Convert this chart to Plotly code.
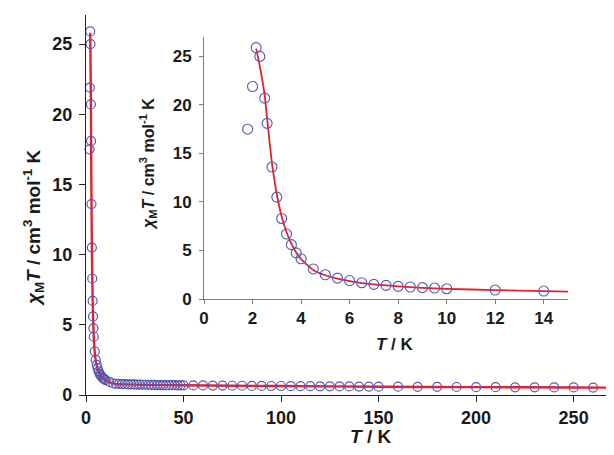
import plotly.graph_objects as go

# ---------------- data ----------------
T_low = [1.8, 2.0, 2.15, 2.3, 2.5, 2.6, 2.8, 3.0, 3.2, 3.4, 3.6, 3.8, 4.0, 4.5,
         5.0, 5.5, 6.0, 6.5, 7.0, 7.5, 8.0, 8.5, 9.0, 9.5, 10.0, 12.0, 14.0]
chiT_low = [17.5, 21.9, 25.9, 25.0, 20.7, 18.1, 13.6, 10.5, 8.3, 6.7, 5.6, 4.75, 4.15, 3.1,
            2.5, 2.15, 1.9, 1.68, 1.51, 1.41, 1.3, 1.24, 1.17, 1.13, 1.06, 0.93, 0.82]

T_mid = [15.5, 17, 18.5, 20, 21.5, 23, 24.5, 26, 27.5, 29, 30.5, 32, 33.5, 35,
         36.5, 38, 39.5, 41, 42.5, 44, 45.5, 47, 48.5, 50]
chiT_mid = [0.80, 0.79, 0.78, 0.77, 0.76, 0.75, 0.75, 0.74, 0.74, 0.73, 0.73, 0.72, 0.72, 0.72,
            0.71, 0.71, 0.71, 0.70, 0.70, 0.70, 0.70, 0.69, 0.69, 0.69]

T_high = [55, 60, 65, 70, 75, 80, 85, 90, 95, 100, 105, 110, 115, 120, 125, 130, 135, 140, 145, 150,
          160, 170, 180, 190, 200, 210, 220, 230, 240, 250, 260]
chiT_high = [0.68, 0.68, 0.67, 0.67, 0.66, 0.66, 0.65, 0.65, 0.64, 0.64, 0.63, 0.63, 0.63, 0.62, 0.62,
             0.61, 0.61, 0.60, 0.60, 0.59, 0.59, 0.58, 0.58, 0.57, 0.56, 0.56, 0.55, 0.55, 0.54, 0.54, 0.53]

fit_T = [2.15, 2.3, 2.5, 2.6, 2.8, 3.0, 3.2, 3.4, 3.6, 3.8, 4.0, 4.5, 5.0, 5.5, 6.0, 7.0, 8.0,
         9.0, 10.0, 12.0, 14.0, 15.0, 20, 30, 50, 100, 150, 200, 250, 270]
fit_chiT = [25.8, 24.0, 21.0, 18.6, 14.0, 10.8, 8.5, 6.9, 5.7, 4.8, 4.1, 3.0, 2.45, 2.1, 1.85, 1.5, 1.3,
            1.15, 1.05, 0.92, 0.82, 0.77, 0.76, 0.72, 0.69, 0.64, 0.59, 0.56, 0.535, 0.525]

x_ticks_main = [0, 50, 100, 150, 200, 250]
y_ticks = [0, 5, 10, 15, 20, 25]
x_ticks_inset = [0, 2, 4, 6, 8, 10, 12, 14]

T_all = T_low + T_mid + T_high
chiT_all = chiT_low + chiT_mid + chiT_high

# ---------------- style ----------------
RED = "#e3232b"
BLUE = "#5656b4"
TXT = "#1a1a1a"
FONT = "Arial, Liberation Sans, sans-serif"

fig = go.Figure()

# main plot
fig.add_trace(go.Scatter(x=fit_T, y=fit_chiT, mode="lines", line=dict(color=RED, width=2.4, shape="spline", smoothing=0.6),
                         xaxis="x", yaxis="y", showlegend=False, hoverinfo="skip"))
fig.add_trace(go.Scatter(x=T_all, y=chiT_all, mode="markers",
                         marker=dict(symbol="circle-open", size=9, color=BLUE, line=dict(width=1.2, color=BLUE)),
                         xaxis="x", yaxis="y", showlegend=False, cliponaxis=False))

# inset
fig.add_trace(go.Scatter(x=fit_T, y=fit_chiT, mode="lines", line=dict(color=RED, width=1.8, shape="spline", smoothing=0.6),
                         xaxis="x2", yaxis="y2", showlegend=False, hoverinfo="skip"))
fig.add_trace(go.Scatter(x=T_low, y=chiT_low, mode="markers",
                         marker=dict(symbol="circle-open", size=10, color=BLUE, line=dict(width=1.1, color=BLUE)),
                         xaxis="x2", yaxis="y2", showlegend=False))

tickfont_main = dict(family=FONT, size=18, color=TXT, weight="bold")
tickfont_inset = dict(family=FONT, size=17, color=TXT, weight="bold")

fig.update_layout(
    width=606, height=447,
    margin=dict(l=78, r=0, t=7, b=60, autoexpand=False),
    paper_bgcolor="white", plot_bgcolor="white",
    xaxis=dict(domain=[0, 1], range=[0, 270.7], tickvals=x_ticks_main, showline=True, linecolor="#222",
               linewidth=1.3, ticks="outside", ticklen=6, tickcolor="#222", showgrid=False, zeroline=False,
               tickfont=tickfont_main, anchor="y", automargin=False),
    yaxis=dict(domain=[0, 1], range=[0, 27.07], tickvals=y_ticks, showline=True, linecolor="#222",
               linewidth=1.3, ticks="outside", ticklen=6, tickcolor="#222", showgrid=False, zeroline=False,
               tickfont=tickfont_main, anchor="x", ticklabelstandoff=3, automargin=False),
    xaxis2=dict(domain=[0.2235, 0.9129], range=[0, 15], tickvals=x_ticks_inset, showline=True, linecolor="#7a7a7a",
                linewidth=1, ticks="outside", ticklen=4, tickcolor="#7a7a7a", showgrid=False, zeroline=False,
                tickfont=tickfont_inset, anchor="y2", automargin=False),
    yaxis2=dict(domain=[0.2526, 0.9421], range=[0, 27], tickvals=y_ticks, showline=True, linecolor="#7a7a7a",
                linewidth=1, ticks="outside", ticklen=4, tickcolor="#7a7a7a", showgrid=False, zeroline=False,
                tickfont=tickfont_inset, anchor="x2", ticklabelstandoff=4, automargin=False),
)

ytitle = "<i>χ</i><sub>M</sub><i>T</i> / cm<sup>3</sup> mol<sup>-1</sup> K"
xtitle = "<i>T</i> / K"

fig.add_annotation(text=ytitle, xref="paper", yref="paper", x=-0.1004, y=0.442, textangle=-90,
                   xanchor="center", yanchor="middle",
                   showarrow=False, font=dict(family=FONT, size=19, color=TXT, weight="bold"))
fig.add_annotation(text=xtitle, xref="paper", yref="paper", x=0.538, y=-0.1105,
                   xanchor="center", yanchor="middle",
                   showarrow=False, font=dict(family=FONT, size=19, color=TXT, weight="bold"))
fig.add_annotation(text=ytitle, xref="paper", yref="paper", x=0.1174, y=0.6079, textangle=-90,
                   xanchor="center", yanchor="middle",
                   showarrow=False, font=dict(family=FONT, size=16, color=TXT, weight="bold"))
fig.add_annotation(text=xtitle, xref="paper", yref="paper", x=0.585, y=0.1316,
                   xanchor="center", yanchor="middle",
                   showarrow=False, font=dict(family=FONT, size=17, color=TXT, weight="bold"))

fig.write_html("out.html")
